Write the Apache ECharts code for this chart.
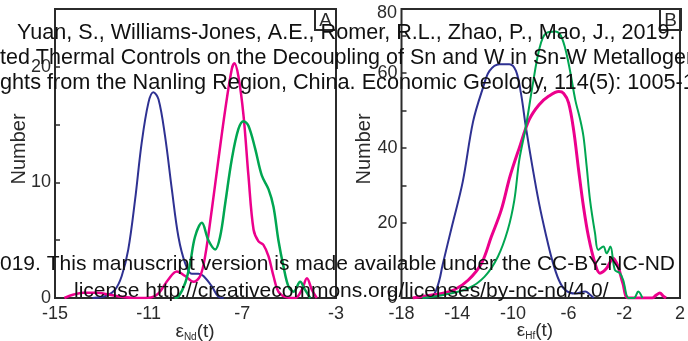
<!DOCTYPE html>
<html>
<head>
<meta charset="utf-8">
<script src="https://cdn.jsdelivr.net/npm/echarts@6/dist/echarts.min.js"></script>
<style>html,body{margin:0;padding:0;background:#fff;}#c{width:688px;height:341px;}</style>
</head>
<body>
<div id="c"></div>
<script>
// Panel A: eNd(t) vs Number
const xTicksA = [-15, -11, -7, -3];
const yLabelsA = [0, 10, 20];
const blueA = [[-13.4,0],[-12.8,0.2],[-12.44,0.7],[-12.15,1.9],[-11.87,4.2],[-11.58,8.5],[-11.3,13.4],[-11.01,16.9],[-10.8,17.8],[-10.58,17.2],[-10.3,14.0],[-10.01,9.4],[-9.73,5.3],[-9.44,3.0],[-9.16,2.1],[-8.87,2.1],[-8.66,1.9],[-8.3,1.0],[-8.02,0.1],[-7.8,0]];
const magentaA = [[-14.6,0],[-14.2,0.3],[-13.8,0.45],[-13.2,0.45],[-12.7,0.3],[-12.2,0.1],[-11.5,0],[-10.9,0.05],[-10.58,0.4],[-10.16,1.6],[-9.8,2.3],[-9.44,1.9],[-9.09,1.4],[-8.8,1.9],[-8.59,3.6],[-8.3,7.7],[-8.02,12.0],[-7.73,16.3],[-7.45,19.8],[-7.34,20.3],[-7.17,19.2],[-6.95,15.8],[-6.74,10.6],[-6.52,5.9],[-6.31,4.9],[-6.1,4.6],[-5.88,3.6],[-5.67,1.9],[-5.46,0.55],[-5.17,0.1],[-4.74,0],[-4.46,0.7],[-4.24,1.7],[-4.03,0.7],[-3.82,0]];
const greenA = [[-9.9,0],[-9.73,0.1],[-9.44,1.3],[-9.23,3.0],[-9.02,5.3],[-8.73,6.5],[-8.45,5.0],[-8.16,4.2],[-7.95,5.3],[-7.73,8.2],[-7.45,12.0],[-7.17,14.6],[-6.95,15.3],[-6.74,14.9],[-6.45,12.9],[-6.17,10.6],[-5.88,9.4],[-5.67,7.9],[-5.46,5.0],[-5.24,2.7],[-5.03,1.0],[-4.81,0.55],[-4.53,1.4],[-4.32,0.7],[-4.1,0]];

// Panel B: eHf(t) vs Number
const xTicksB = [-18, -14, -10, -6, -2, 2];
const yLabelsB = [0, 20, 40, 60];
const blueB = [[-16.3,0],[-15.7,0.8],[-15.3,4.5],[-15.05,8.8],[-14.35,19.5],[-13.6,31],[-12.86,47],[-12.15,56],[-11.68,60.5],[-10.96,62.3],[-10.25,62.3],[-9.78,60.5],[-9.42,54.5],[-9.07,45.6],[-8.6,35],[-8.12,25.2],[-7.65,17.2],[-7.18,10.1],[-6.7,4.8],[-6.23,2.1],[-5.52,1.2],[-4.8,1.7],[-4.5,1.0],[-4.2,0]];
const magentaB = [[-17.2,0],[-16.5,0.4],[-15.8,0.8],[-15.1,1.2],[-14.2,2.2],[-13.2,4.8],[-12.26,9.2],[-11.55,16.3],[-10.84,23.4],[-10.2,32.5],[-9.54,40],[-8.83,47.5],[-8.12,51.5],[-7.42,53.8],[-6.7,55],[-6.35,54.5],[-6,52],[-5.64,44.8],[-5.28,34.1],[-4.93,24.3],[-4.57,16.3],[-4.1,9.2],[-3.75,6.6],[-3.27,7.9],[-2.8,10.6],[-2.44,8.3],[-2.1,3.9],[-1.7,0],[0,0],[0.3,0.8],[0.55,1.3],[0.8,0.5],[1.0,0]];
const greenB = [[-16.5,0],[-15,0.8],[-13.2,2.6],[-12.03,5.7],[-11.08,11],[-10.37,18.1],[-9.9,26],[-9.54,36.8],[-9.07,45.6],[-8.6,56.3],[-8.12,66.1],[-7.65,70.5],[-6.94,71],[-6.47,69.2],[-6,62.5],[-5.52,52.8],[-5.16,47.4],[-4.93,43],[-4.7,35],[-4.46,26.1],[-4.1,17.2],[-3.87,12.8],[-3.5,13.7],[-3.27,11.9],[-3.0,13.7],[-2.68,7.5],[-2.32,6.6],[-2.08,4.8],[-1.7,0],[-1.3,0],[-1.0,1.7],[-0.7,0]];

const watermark = [
  {text: 'Yuan, S., Williams-Jones, A.E., Romer, R.L., Zhao, P., Mao, J., 2019.', x: 17, y: 33, size: 21.6},
  {text: 'ted Thermal Controls on the Decoupling of Sn and W in Sn-W Metallogenic Provinces:', x: 0, y: 58.5, size: 21.5},
  {text: 'ghts from the Nanling Region, China. Economic Geology, 114(5): 1005-1012.', x: 0, y: 83.5, size: 21.7},
  {text: '019. This manuscript version is made available under the CC-BY-NC-ND', x: 0, y: 264.5, size: 21},
  {text: 'license http://creativecommons.org/licenses/by-nc-nd/4.0/', x: 74, y: 291, size: 21}
];

const FONT = '"Liberation Sans", Arial, sans-serif';
const C_BLUE = '#2E3192', C_MAG = '#EC008C', C_GRN = '#00A651', C_AX = '#2b2b2b';

const chart = echarts.init(document.getElementById('c'), null, {renderer: 'canvas'});

function yAxis(idx, max, interval, labels) {
  return {
    type: 'value', gridIndex: idx, position: 'left', min: 0, max: max, interval: interval,
    axisLine: {show: false, onZero: false},
    axisTick: {show: true, inside: true, length: 5, lineStyle: {color: C_AX, width: 1.5}},
    splitLine: {show: false},
    axisLabel: {margin: 4, fontSize: 18, color: C_AX, fontFamily: FONT,
      formatter: v => labels.indexOf(v) >= 0 ? String(v) : ''}
  };
}
function xAxis(idx, ticks) {
  return {
    type: 'value', gridIndex: idx, position: 'bottom', min: ticks[0], max: ticks[ticks.length - 1],
    axisLine: {show: false, onZero: false}, axisTick: {show: false}, splitLine: {show: false},
    axisLabel: {margin: 7, fontSize: 18, color: C_AX, fontFamily: FONT, customValues: ticks,
      formatter: v => String(v)}
  };
}
function line(data, color, width, xi) {
  return {type: 'line', data: data, xAxisIndex: xi, yAxisIndex: xi, smooth: 0.35,
    showSymbol: false, symbol: 'none', lineStyle: {color: color, width: width}, animation: false, z: 3};
}

const graphics = [];
watermark.forEach(w => graphics.push({type: 'text', x: w.x, y: w.y, z: 100,
  style: {text: w.text, fill: '#111', font: w.size + 'px ' + FONT, align: 'left', verticalAlign: 'middle'}}));
[[315, 'A'], [660, 'B']].forEach(([bx, t]) => {
  graphics.push({type: 'rect', shape: {x: bx, y: 9, width: 21, height: 21}, z: 90,
    style: {fill: 'none', stroke: C_AX, lineWidth: 2}});
  graphics.push({type: 'text', x: bx + 10.5, y: 20.5, z: 91,
    style: {text: t, fill: C_AX, font: '19px ' + FONT, align: 'center', verticalAlign: 'middle'}});
});
[19, 364].forEach(nx => graphics.push({type: 'text', x: nx, y: 149, rotation: Math.PI / 2, z: 50,
  style: {text: 'Number', fill: C_AX, font: '20px ' + FONT, align: 'center', verticalAlign: 'middle'}}));
function subLabel(x, y, sub) {
  return {type: 'text', x: x, y: y, z: 50,
    style: {text: '{e|ε}{s|' + sub + '}{e|(t)}', align: 'center', verticalAlign: 'middle', fill: C_AX,
      rich: {e: {fontSize: 19, fontFamily: FONT, color: C_AX, lineHeight: 20},
             s: {fontSize: 10, fontFamily: FONT, color: C_AX, lineHeight: 20, verticalAlign: 'bottom', padding: [6, 0, 0, 0]}}}};
}
graphics.push(subLabel(195, 332, 'Nd'));
graphics.push(subLabel(535, 331, 'Hf'));
// "80" label shown at the top of panel B's value axis in the original
graphics.push({type: 'text', x: 397, y: 13, z: 50,
  style: {text: '80', fill: C_AX, font: '18px ' + FONT, align: 'right', verticalAlign: 'middle'}});

chart.setOption({
  animation: false,
  backgroundColor: '#fff',
  grid: [
    {left: 55, top: 9, width: 281, height: 289, show: true, borderColor: C_AX, borderWidth: 2, backgroundColor: 'transparent', containLabel: false},
    {left: 401.5, top: 9, width: 279.5, height: 289, show: true, borderColor: C_AX, borderWidth: 2, backgroundColor: 'transparent', containLabel: false}
  ],
  xAxis: [xAxis(0, xTicksA), xAxis(1, xTicksB)],
  yAxis: [yAxis(0, 25, 5, yLabelsA), yAxis(1, 77, 10, yLabelsB)],
  series: [
    line(blueA, C_BLUE, 2, 0), line(magentaA, C_MAG, 2.5, 0), line(greenA, C_GRN, 2.5, 0),
    line(blueB, C_BLUE, 2, 1), line(magentaB, C_MAG, 3, 1), line(greenB, C_GRN, 2, 1)
  ],
  graphic: graphics
});
</script>
</body>
</html>
